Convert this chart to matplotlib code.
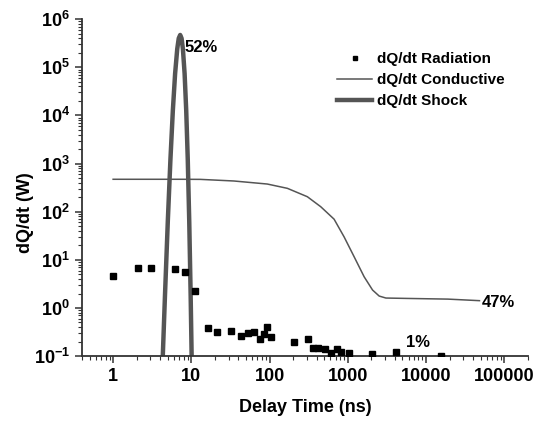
import math
import matplotlib
matplotlib.use("Agg")
import matplotlib.pyplot as plt
from matplotlib.ticker import LogLocator, FixedLocator, FuncFormatter, NullFormatter

plt.rcParams['font.family'] = ['Liberation Sans', 'DejaVu Sans']
plt.rcParams['font.weight'] = 'bold'
plt.rcParams['mathtext.fontset'] = 'custom'
plt.rcParams['mathtext.rm'] = 'Liberation Sans:bold'
plt.rcParams['mathtext.bf'] = 'Liberation Sans:bold'
plt.rcParams['mathtext.it'] = 'Liberation Sans:bold'

# Radiation (scatter)
rad_t = [1.0, 2.05, 3.07, 6.2, 8.2, 11.1, 16.4, 21.5, 32.6, 42.9, 53.7, 63, 74.5, 83.8, 94, 105,
         207, 313, 363, 417, 510, 617, 724, 813, 1040, 2040, 4080, 15500]
rad_q = [4.6, 6.7, 6.8, 6.4, 5.5, 2.24, 0.38, 0.32, 0.34, 0.26, 0.30, 0.31, 0.23, 0.29, 0.40, 0.245,
         0.195, 0.23, 0.145, 0.149, 0.14, 0.117, 0.138, 0.12, 0.114, 0.11, 0.123, 0.1]

# Conductive (thin line)
cond_t = [1.0, 7.2, 13.0, 34.9, 93.5, 169, 304, 451, 668, 897, 1205, 1618, 2073, 2520, 3070,
          5820, 18970, 48200]
cond_q = [472, 472, 470, 435, 376, 306, 205, 127, 70, 30, 11.6, 4.45, 2.36, 1.77, 1.61,
          1.58, 1.53, 1.42]

# Shock (thick line)
shock_t = [4.3, 4.6, 5.0, 5.4, 5.8, 6.2, 6.6, 6.9, 7.2, 7.5, 7.8, 8.2, 8.6, 9.0, 9.4, 9.8, 10.1]
shock_q = [0.087, 1.8, 63, 1200, 1.26e4, 7.4e4, 2.4e5, 4.0e5, 4.7e5, 4.0e5, 2.4e5, 7.4e4,
           1.26e4, 1200, 63, 1.8, 0.087]

x_ticks = [1, 10, 100, 1000, 10000, 100000]
x_ticklabels = ['1', '10', '100', '1000', '10000', '100000']
y_ticks = [0.1, 1, 10, 100, 1000, 1e4, 1e5, 1e6]

fig = plt.figure(figsize=(5.43, 4.26), dpi=100)
ax = fig.add_axes([0.151, 0.164, 0.821, 0.791])

gray = '#555555'
ax.plot(shock_t, shock_q, color=gray, lw=3.2, label='dQ/dt Shock', zorder=2, solid_joinstyle='round')
ax.plot(cond_t, cond_q, color=gray, lw=1.1, label='dQ/dt Conductive', zorder=2)
ax.plot(rad_t, rad_q, ls='none', marker='s', ms=5, color='black', label='dQ/dt Radiation', zorder=3)

ax.set_xscale('log')
ax.set_yscale('log')
ax.set_xlim(0.4, 2e5)
ax.set_ylim(0.1, 1e6)

ax.xaxis.set_major_locator(FixedLocator(x_ticks))
def xfmt(v, p):
    r = int(round(v))
    return x_ticklabels[x_ticks.index(r)] if r in x_ticks else ''
ax.xaxis.set_major_formatter(FuncFormatter(xfmt))
ax.xaxis.set_minor_locator(LogLocator(base=10, subs=range(2, 10), numticks=20))
ax.xaxis.set_minor_formatter(NullFormatter())

ax.yaxis.set_major_locator(FixedLocator(y_ticks))
def yfmt(v, p):
    e = int(round(math.log10(v)))
    return r'$\mathbf{10^{%d}}$' % e
ax.yaxis.set_major_formatter(FuncFormatter(yfmt))
ax.yaxis.set_minor_locator(LogLocator(base=10, subs=range(2, 10), numticks=20))
ax.yaxis.set_minor_formatter(NullFormatter())

for s in ['top', 'right']:
    ax.spines[s].set_visible(False)
for s in ['left', 'bottom']:
    ax.spines[s].set_linewidth(1.3)
    ax.spines[s].set_color('#333333')

ax.tick_params(axis='both', which='major', direction='out', length=5, width=1.1, labelsize=13,
               colors='#333333', labelcolor='black')
ax.tick_params(axis='both', which='minor', direction='out', length=3, width=0.8, colors='#333333')
for lab in ax.get_xticklabels() + ax.get_yticklabels():
    lab.set_fontweight('bold')

ax.set_xlabel('Delay Time (ns)', fontsize=13, fontweight='bold', labelpad=10)
ax.set_ylabel('dQ/dt (W)', fontsize=13, fontweight='bold')
ax.yaxis.set_label_coords(-0.108, 0.427)

h, l = ax.get_legend_handles_labels()
order = [2, 1, 0]
ax.legend([h[i] for i in order], [l[i] for i in order], loc='upper right', bbox_to_anchor=(0.979, 0.943),
          frameon=False, handlelength=2.3, handletextpad=0.3, labelspacing=0.45,
          prop={'weight': 'bold', 'size': 11}, markerscale=0.7)

ax.text(8.3, 2.6e5, '52%', fontsize=12, fontweight='bold', va='center', ha='left')
ax.text(52000, 1.3, '47%', fontsize=12, fontweight='bold', va='center', ha='left')
ax.text(5500, 0.135, '1%', fontsize=12, fontweight='bold', va='bottom', ha='left')

fig.savefig('out.png', dpi=100)
